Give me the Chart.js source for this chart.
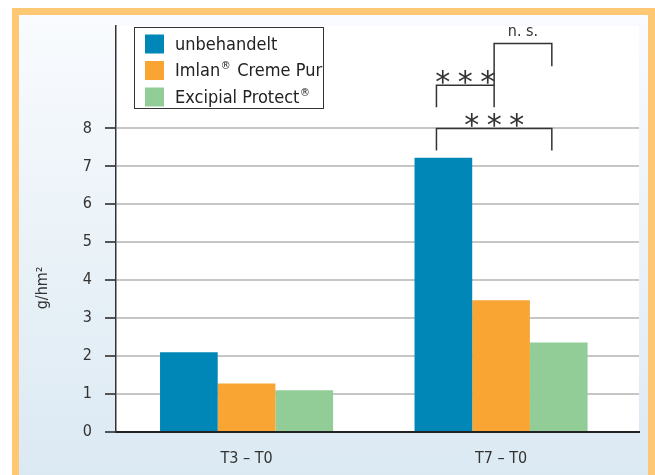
<!DOCTYPE html>
<html lang="de">
<head>
<meta charset="utf-8">
<title>Wasserverlust T3 / T7</title>
<script src="https://cdn.jsdelivr.net/npm/chart.js@4.4.1/dist/chart.umd.min.js"></script>
<style>
  html, body { margin: 0; padding: 0; background: #fff; }
  body { width: 655px; height: 475px; overflow: hidden; position: relative; }
  .frame {
    position: absolute; left: 12px; top: 8px;
    width: 629px; height: 467px;
    border: 7px solid #fdc774; border-bottom: none;
    background: linear-gradient(to bottom, #f9fbfe 0%, #eaf2f8 50%, #dbe9f3 100%);
  }
  .chart-box { position: absolute; left: 0; top: 0; width: 629px; height: 460px; }
</style>
</head>
<body>
<div class="frame">
  <div class="chart-box"><canvas id="tewlChart"></canvas></div>
</div>
<script>
// --- data ---
const categories = ['T3 – T0', 'T7 – T0'];
const seriesNames = ['unbehandelt', 'Imlan® Creme Pur', 'Excipial Protect®'];
const untreated = [2.1, 7.23];
const imlan = [1.28, 3.47];
const excipial = [1.1, 2.36];
const yTicks = [0, 1, 2, 3, 4, 5, 6, 7, 8];

// significance brackets, all drawn over the T7 – T0 group
const bracketCategory = 1;
const bracketPairs = [[0, 2], [0, 1], [1, 2]];
const bracketLevels = [8.0, 9.14, 10.24];
const bracketLegEnds = [[7.42, 7.42], [8.56, 8.56], [9.14, 9.64]];
const bracketLabels = ['***', '***', 'n. s.'];

const FONT = "'Liberation Sans Narrow', 'DejaVu Sans Condensed', 'Liberation Sans', sans-serif";
const colors = ['#0087b7', '#f8a533', '#92cd97'];
const seriesValues = [untreated, imlan, excipial];

// draws a label with the ® sign set small and raised
function drawRegistered(ctx, text, x, y, size) {
  const parts = text.split('®');
  let cx = x;
  parts.forEach((part, i) => {
    ctx.font = `${size}px ${FONT}`;
    ctx.fillText(part, cx, y);
    cx += ctx.measureText(part).width;
    if (i < parts.length - 1) {
      ctx.font = `${Math.round(size * 0.6)}px ${FONT}`;
      ctx.fillText('®', cx + 0.5, y - size * 0.28);
      cx += ctx.measureText('®').width + 2;
    }
  });
}

// white plot area on top of the tinted page
const plotBackground = {
  id: 'plotBackground',
  beforeDraw(chart) {
    const { ctx, chartArea: a } = chart;
    ctx.save();
    ctx.fillStyle = '#fff';
    ctx.fillRect(a.left, a.top, a.right - a.left, a.bottom - a.top);
    ctx.restore();
  }
};

// rotated unit label left of the y axis
const yTitle = {
  id: 'yTitle',
  afterDraw(chart) {
    const { ctx } = chart;
    const y = chart.scales.y;
    ctx.save();
    ctx.translate(24, y.getPixelForValue(3.8));
    ctx.rotate(-Math.PI / 2);
    ctx.font = `16px ${FONT}`;
    ctx.fillStyle = '#333';
    ctx.textAlign = 'center';
    ctx.textBaseline = 'middle';
    ctx.fillText('g/hm²', 0, 0);
    ctx.restore();
  }
};

// boxed legend inside the plot, top left
const boxLegend = {
  id: 'boxLegend',
  afterDraw(chart) {
    const { ctx, chartArea: a } = chart;
    const left = a.left + 18, top = a.top + 1, w = 189, h = 81;
    ctx.save();
    ctx.fillStyle = '#fff';
    ctx.fillRect(left, top, w, h);
    ctx.strokeStyle = '#333';
    ctx.lineWidth = 1;
    ctx.strokeRect(left + 0.5, top + 0.5, w, h);
    ctx.textBaseline = 'middle';
    ctx.textAlign = 'left';
    chart.data.datasets.forEach((ds, i) => {
      const cy = top + 17 + i * 26.5;
      ctx.fillStyle = ds.backgroundColor;
      ctx.fillRect(left + 11, cy - 9.5, 19, 19);
      ctx.fillStyle = '#222';
      drawRegistered(ctx, ds.label, left + 41, cy + 1, 18);
    });
    ctx.restore();
  }
};

// brackets with *** / n. s.
const brackets = {
  id: 'brackets',
  afterDatasetsDraw(chart) {
    const { ctx } = chart;
    const y = chart.scales.y;
    // bracket ends sit slightly left of each bar's centre
    const endX = s => {
      const bar = chart.getDatasetMeta(s).data[bracketCategory];
      return bar.x - bar.width * 0.12;
    };
    ctx.save();
    ctx.strokeStyle = '#333';
    ctx.lineWidth = 1.5;
    ctx.fillStyle = '#333';
    bracketPairs.forEach(([s0, s1], k) => {
      const x0 = endX(s0);
      const x1 = endX(s1);
      const yl = y.getPixelForValue(bracketLevels[k]);
      ctx.beginPath();
      ctx.moveTo(x0, y.getPixelForValue(bracketLegEnds[k][0]));
      ctx.lineTo(x0, yl);
      ctx.lineTo(x1, yl);
      ctx.lineTo(x1, y.getPixelForValue(bracketLegEnds[k][1]));
      ctx.stroke();

      const cx = (x0 + x1) / 2;
      ctx.textAlign = 'center';
      ctx.textBaseline = 'alphabetic';
      if (bracketLabels[k] === '***') {
        ctx.font = "30px 'DejaVu Sans', sans-serif";
        const m = ctx.measureText('*');
        const base = yl - 1 - m.actualBoundingBoxDescent;
        [-1, 0, 1].forEach(j => ctx.fillText('*', cx + j * 22.5, base));
      } else {
        ctx.font = `16px ${FONT}`;
        ctx.fillText(bracketLabels[k], cx, yl - 7);
      }
    });
    ctx.restore();
  }
};

const datasets = seriesNames.map((name, s) => ({
  label: name,
  data: seriesValues[s].map((v, i) => ({ x: i, y: v })),
  backgroundColor: colors[s],
  borderWidth: 0,
  categoryPercentage: 0.68,
  barPercentage: 1
}));

new Chart(document.getElementById('tewlChart'), {
  type: 'bar',
  data: { datasets },
  options: {
    responsive: true,
    maintainAspectRatio: false,
    animation: false,
    layout: { padding: { top: 11, right: 9, left: 0, bottom: 0 } },
    plugins: {
      legend: { display: false },
      tooltip: { enabled: true }
    },
    scales: {
      x: {
        type: 'linear',
        offset: false,
        min: -0.513,
        max: 1.542,
        afterBuildTicks: s => { s.ticks = categories.map((_, i) => ({ value: i })); },
        ticks: {
          callback: v => categories[v],
          font: { size: 16, family: FONT },
          color: '#333',
          padding: 9,
          maxRotation: 0,
          autoSkip: false
        },
        grid: { display: false, offset: false },
        border: { color: '#222', width: 2 },
        afterFit: s => { s.height = 43; s.paddingLeft = 0; s.paddingRight = 0; }
      },
      y: {
        min: 0,
        max: 10.7,
        afterBuildTicks: s => { s.ticks = yTicks.map(v => ({ value: v })); },
        ticks: {
          font: { size: 16, family: FONT },
          color: '#333',
          padding: 13
        },
        grid: {
          color: c => (c.tick && c.tick.value === 0 ? 'rgba(0,0,0,0)' : '#c6c6c6'),
          lineWidth: 2,
          tickColor: '#555',
          tickLength: 11,
          tickWidth: 2
        },
        border: { color: '#333', width: 1.5 },
        afterFit: s => { s.width = 97; s.paddingTop = 0; s.paddingBottom = 0; }
      }
    }
  },
  plugins: [plotBackground, brackets, boxLegend, yTitle]
});
</script>
</body>
</html>
